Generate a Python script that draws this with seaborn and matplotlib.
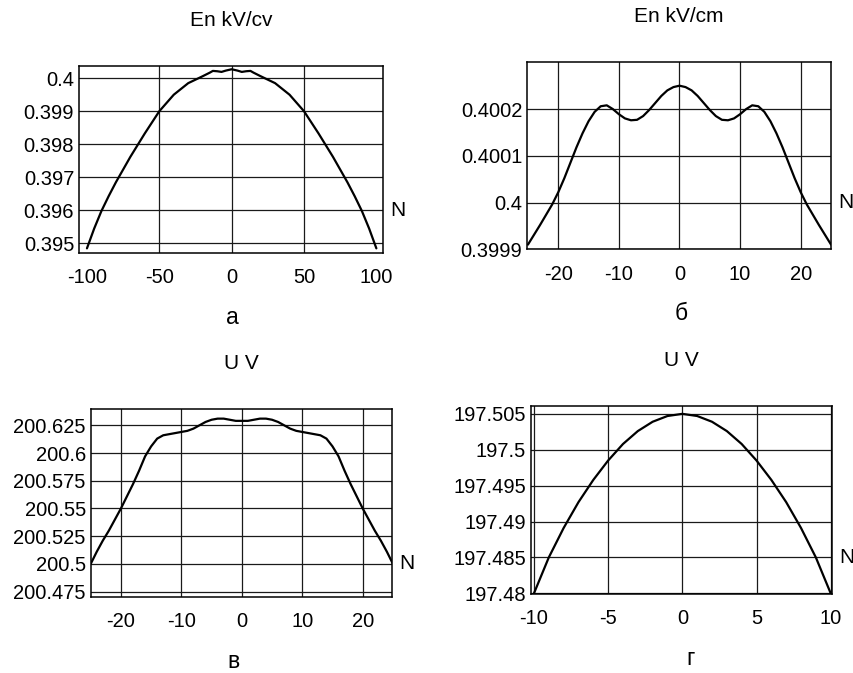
import seaborn as sns
import matplotlib.pyplot as plt
import numpy as np
import pandas as pd

# --- datos ---
# a) En kV/cv, N de -100 a 100
n_a = [-100, -95, -90, -85, -80, -70, -60, -50, -40, -30, -20, -15, -13, -10, -7, -4, 0,
       4, 7, 10, 13, 15, 20, 30, 40, 50, 60, 70, 80, 85, 90, 95, 100]
e_a = [0.39485, 0.39545, 0.39598, 0.39643, 0.39685, 0.39762, 0.39833, 0.39900, 0.39950,
       0.39985, 0.40006, 0.40017, 0.40022, 0.40021, 0.40019, 0.40023, 0.40027,
       0.40023, 0.40019, 0.40021, 0.40022, 0.40017, 0.40006, 0.39985, 0.39950,
       0.39900, 0.39833, 0.39762, 0.39685, 0.39643, 0.39598, 0.39545, 0.39485]

# б) En kV/cm, N de -25 a 25
n_b = list(range(-25, 26))
e_b = [0.399910, 0.399931, 0.399952, 0.399974, 0.399996, 0.400022, 0.400052, 0.400085,
       0.400118, 0.400148, 0.400174, 0.400194, 0.400206, 0.400208, 0.400200, 0.400189,
       0.400180, 0.400176, 0.400177, 0.400185, 0.400198, 0.400213, 0.400228, 0.400240,
       0.400247, 0.400250,
       0.400247, 0.400240, 0.400228, 0.400213, 0.400198, 0.400185, 0.400177, 0.400176,
       0.400180, 0.400189, 0.400200, 0.400208, 0.400206, 0.400194, 0.400174, 0.400148,
       0.400118, 0.400085, 0.400052, 0.400022, 0.399996, 0.399974, 0.399952, 0.399931,
       0.399910]

# в) U V, N de -25 a 25
n_v = list(range(-25, 26))
u_v = [200.500, 200.511, 200.521, 200.530, 200.540, 200.550, 200.561, 200.572,
       200.584, 200.597, 200.606, 200.613, 200.616, 200.617, 200.618, 200.619,
       200.620, 200.622, 200.625, 200.628, 200.630, 200.631, 200.631, 200.630,
       200.629, 200.629,
       200.629, 200.630, 200.631, 200.631, 200.630, 200.628, 200.625, 200.622,
       200.620, 200.619, 200.618, 200.617, 200.616, 200.613, 200.606, 200.597,
       200.584, 200.572, 200.561, 200.550, 200.540, 200.530, 200.521, 200.511, 200.500]

# г) U V, N de -10 a 10
n_g = list(range(-10, 11))
u_g = [197.4800, 197.4850, 197.4891, 197.4927, 197.4958, 197.4985, 197.5008,
       197.5026, 197.5039, 197.5047, 197.5050,
       197.5047, 197.5039, 197.5026, 197.5008, 197.4985, 197.4958, 197.4927,
       197.4891, 197.4850, 197.4800]

titles = ["En kV/cv", "En kV/cm", "U V", "U V"]
letters = ["а", "б", "в", "г"]

xt_a = [-100, -50, 0, 50, 100]
yt_a = [0.395, 0.396, 0.397, 0.398, 0.399, 0.4]
yl_a = ["0.395", "0.396", "0.397", "0.398", "0.399", "0.4"]
xt_b = [-20, -10, 0, 10, 20]
yt_b = [0.3999, 0.4, 0.4001, 0.4002]
yl_b = ["0.3999", "0.4", "0.4001", "0.4002"]
xt_v = [-20, -10, 0, 10, 20]
yt_v = [200.475, 200.5, 200.525, 200.55, 200.575, 200.6, 200.625]
yl_v = ["200.475", "200.5", "200.525", "200.55", "200.575", "200.6", "200.625"]
xt_g = [-10, -5, 0, 5, 10]
yt_g = [197.48, 197.485, 197.49, 197.495, 197.5, 197.505]
yl_g = ["197.48", "197.485", "197.49", "197.495", "197.5", "197.505"]

sns.set_style("white")
plt.rcParams['font.family'] = ['Liberation Sans', 'DejaVu Sans']
plt.rcParams['text.color'] = 'black'

fig = plt.figure(figsize=(8.54, 6.73), dpi=100)

paneles = [
    # rect, x, y, xticks, yticks, ylabels, xlim, ylim, N en y, ocultar rejilla extremos, dx letra
    ([0.0925, 0.6241, 0.356, 0.2779], n_a, e_a, xt_a, yt_a, yl_a,
     (-105.5, 104.6), (0.39471, 0.40037), 0.396, True, 0.005),
    ([0.6175, 0.6296, 0.3556, 0.2778], n_b, e_b, xt_b, yt_b, yl_b,
     (-25.1, 25.0), (0.3999, 0.4003), 0.4, False, 0.008),
    ([0.1062, 0.1134, 0.3525, 0.2789], n_v, u_v, xt_v, yt_v, yl_v,
     (-25.0, 24.8), (200.4705, 200.6397), 200.5, False, -0.025),
    ([0.6218, 0.1174, 0.3521, 0.2794], n_g, u_g, xt_g, yt_g, yl_g,
     (-10.2, 10.07), (197.4799, 197.5061), 197.485, False, 0.03),
]

for i, (rect, xs, ys, xt, yt, yl, xlim, ylim, ny, hide, dx) in enumerate(paneles):
    ax = fig.add_axes(rect)
    df = pd.DataFrame({"N": xs, "val": ys})
    sns.lineplot(data=df, x="N", y="val", ax=ax, color="black", linewidth=1.6)
    ax.set_xlim(*xlim)
    ax.set_ylim(*ylim)
    ax.set_xticks(xt)
    ax.set_xticklabels([str(v) for v in xt])
    ax.set_yticks(yt)
    ax.set_yticklabels(yl)
    ax.set_xlabel("")
    ax.set_ylabel("")
    ax.tick_params(axis="both", length=0, labelsize=14.5, colors="black")
    ax.tick_params(axis="x", pad=11)
    ax.tick_params(axis="y", pad=3.5)
    ax.grid(True, color="#1a1a1a", linewidth=0.9)
    if hide:
        gl = ax.get_xgridlines()
        gl[0].set_visible(False)
        gl[-1].set_visible(False)
    for s in ax.spines.values():
        s.set_color("black")
        s.set_linewidth(1.1)

    ax.annotate(titles[i], xy=(0.5, 1), xycoords="axes fraction",
                xytext=(0, 33), textcoords="offset points",
                ha="center", va="center", fontsize=15, color="black")
    ax.annotate("N", xy=(1, ny), xycoords=("axes fraction", "data"),
                xytext=(11, 0), textcoords="offset points",
                ha="center", va="center", fontsize=15, color="black")
    ax.annotate(letters[i], xy=(0.5 + dx, 0), xycoords="axes fraction",
                xytext=(0, -51), textcoords="offset points",
                ha="center", va="baseline", fontsize=16.5, color="black")

fig.savefig("out.png", dpi=100)
